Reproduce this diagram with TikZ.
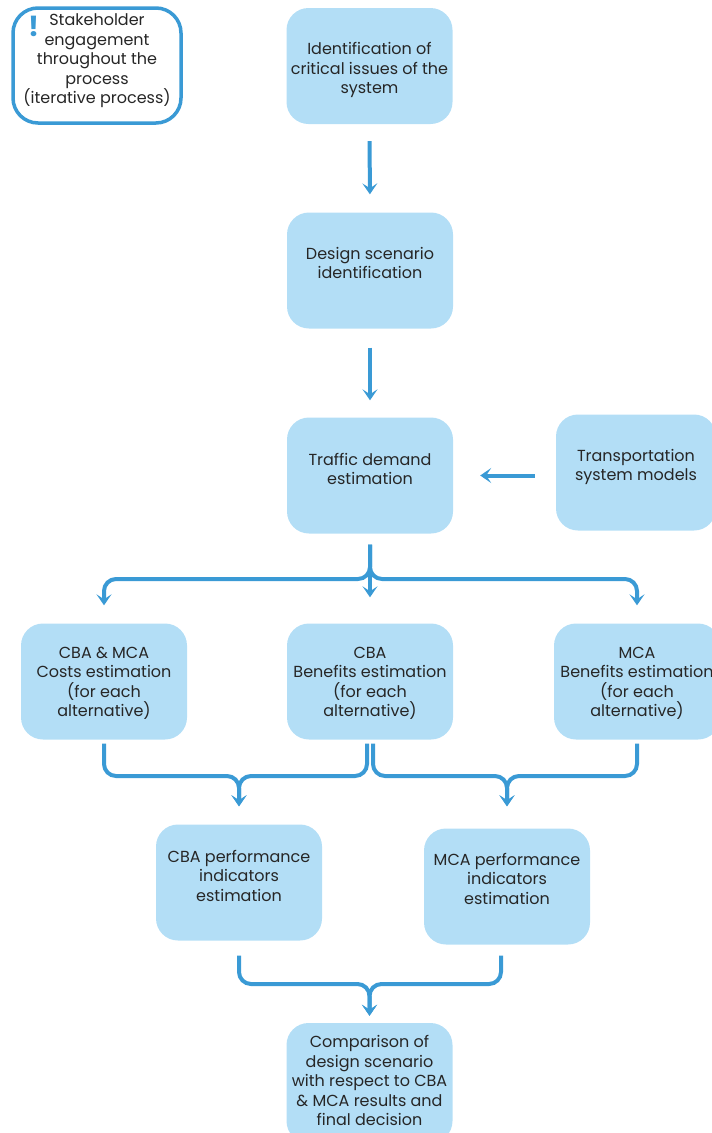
\documentclass[tikz,border=0pt]{standalone}
\usepackage{fontspec}
\setmainfont{Poppins}
\usetikzlibrary{arrows.meta,calc}
\definecolor{boxfill}{HTML}{B3DEF6}
\definecolor{flowblue}{HTML}{3A9AD5}
\definecolor{txt}{HTML}{262626}
\tikzset{
  stepbox/.style={fill=boxfill, rounded corners=22pt, minimum width=166pt,
    minimum height=116pt, inner sep=0pt},
  steptext/.style={inner sep=0pt, align=center, text=txt,
    font=\fontsize{16}{19.5}\selectfont},
  flow/.style={draw=flowblue, line width=4pt,
    -{Stealth[length=11pt,width=15pt,inset=5pt]}},
}
\begin{document}
\begin{tikzpicture}[x=1pt,y=-1pt]
\useasboundingbox (0,0) rectangle (712,1133);
\clip (0,0) rectangle (712,1133);

% reminder box
\node[draw=flowblue, line width=3.5pt, rounded corners=25pt, fill=white,
  minimum width=168pt, minimum height=115pt, inner sep=0pt] (S) at (97,65.5) {};
\node[steptext] (St) at (97,61)
  {Stakeholder\\engagement\\throughout the\\process\\(iterative process)};
\node[text=flowblue, inner sep=0pt, font=\fontsize{28}{28}\bfseries\selectfont] (Ex) at (33.5,26) {!};

% main steps
\node[stepbox] (B1) at (369.5,66) {};
\node[steptext] (B1t) at ([yshift=-4pt]B1) {Identification of\\critical issues of the\\system};
\node[stepbox] (B2) at (370,270.5) {};
\node[steptext] (B2t) at ([yshift=7.5pt]B2) {Design scenario\\identification};
\node[stepbox] (B3) at (370,475.5) {};
\node[steptext] (B3t) at ([yshift=6.5pt]B3) {Traffic demand\\estimation};
\node[stepbox, minimum width=160pt] (T) at (636,472.5) {};
\node[steptext] (Tt) at ([yshift=5.5pt]T) {Transportation\\system models};

\node[stepbox] (C1) at (104,681.5) {};
\node[steptext] (C1t) at ([yshift=-2pt]C1) {CBA \& MCA\\Costs estimation\\(for each\\alternative)};
\node[stepbox] (C2) at (370,681.5) {};
\node[steptext] (C2t) at ([yshift=-2pt]C2) {CBA\\Benefits estimation\\(for each\\alternative)};
\node[stepbox] (C3) at (637,681.5) {};
\node[steptext] (C3t) at ([yshift=-2pt]C3) {MCA\\Benefits estimation\\(for each\\alternative)};

\node[stepbox] (D1) at (239,882.5) {};
\node[steptext] (D1t) at ([yshift=7pt]D1) {CBA performance\\indicators\\estimation};
\node[stepbox] (D2) at (507,886.5) {};
\node[steptext] (D2t) at ([yshift=8pt]D2) {MCA performance\\indicators\\estimation};

\node[stepbox, minimum height=120pt] (E) at (369.5,1083) {};
\node[steptext] (Et) at ([yshift=2.5pt]E)
  {Comparison of\\design scenario\\with respect to CBA\\\& MCA results and\\final decision};

% junction levels
\coordinate (split) at (370,579);
\coordinate (merge1) at (0,776);
\coordinate (merge2) at (0,984);

% straight flow
\draw[flow, shorten <=17pt, shorten >=18pt] (B1.south) -- (B2.north);
\draw[flow, shorten <=19pt, shorten >=17pt] (B2.south) -- (B3.north);
\draw[flow, shorten <=21pt, shorten >=27pt] (T.west |- B3.east) -- (B3.east);

% branching to the estimation steps
\draw[flow, rounded corners=12pt, shorten <=11pt, shorten >=18pt]
  (B3.south) |- (C1.north |- split) -- (C1.north);
\draw[flow, rounded corners=12pt, shorten <=11pt, shorten >=18pt]
  (B3.south) |- (C3.north |- split) -- (C3.north);
\draw[flow, shorten <=11pt, shorten >=26pt] (B3.south) -- (C2.north);

% merging into the indicator steps
\draw[flow, rounded corners=12pt, shorten <=4pt, shorten >=18pt]
  (C1.south) |- (D1.north |- merge1) -- (D1.north);
\draw[flow, rounded corners=12pt, shorten <=4pt, shorten >=18pt]
  ([xshift=-3pt]C2.south) |- (D1.north |- merge1) -- (D1.north);
\draw[flow, rounded corners=12pt, shorten <=4pt, shorten >=22pt]
  ([xshift=3pt]C2.south) |- (D2.north |- merge1) -- (D2.north);
\draw[flow, rounded corners=12pt, shorten <=4pt, shorten >=22pt]
  (C3.south) |- (D2.north |- merge1) -- (D2.north);

% merging into the final decision
\draw[flow, rounded corners=12pt, shorten <=15pt, shorten >=7pt]
  (D1.south) |- (E.north |- merge2) -- (E.north);
\draw[flow, rounded corners=12pt, shorten <=11pt, shorten >=7pt]
  ([xshift=-6pt]D2.south) |- (E.north |- merge2) -- (E.north);
\end{tikzpicture}
\end{document}
